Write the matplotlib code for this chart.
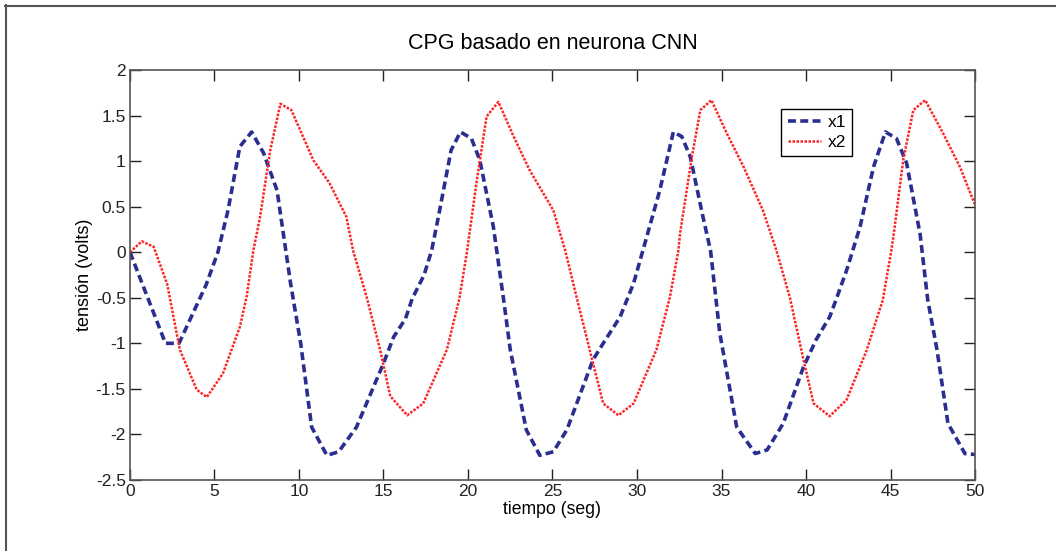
import numpy as np
import matplotlib
matplotlib.use('Agg')
import matplotlib.pyplot as plt
from matplotlib.lines import Line2D

plt.rcParams['font.family'] = ['Liberation Sans', 'DejaVu Sans']

# x1 (CNN neuron state 1)
t1 = [0, 2.1, 2.9, 4.5, 5.2, 5.8, 6.5, 7.2, 7.9, 8.7, 9.5, 10.1, 10.75, 11.65,
      12.35, 13.4, 15.0, 15.6, 16.3, 16.7, 17.4, 17.85, 18.25, 19.0, 19.55,
      20.2, 20.7, 21.5, 22.1, 22.5, 23.45, 24.25, 25.05, 25.85, 27.4, 28.0,
      29.0, 29.8, 30.35, 31.35, 32.15, 32.65, 33.15, 33.9, 34.35, 34.9, 35.9,
      37.0, 37.7, 38.65, 39.85, 40.6, 41.4, 41.8, 42.4, 43.2, 44.0, 44.7,
      45.35, 45.95, 46.75, 47.2, 47.75, 48.4, 49.4, 50]
x1 = [0, -1.0, -1.0, -0.36, 0.0, 0.46, 1.16, 1.32, 1.09, 0.68, -0.34, -1.0,
      -1.92, -2.23, -2.19, -1.92, -1.22, -0.93, -0.73, -0.51, -0.25, 0.02,
      0.39, 1.12, 1.32, 1.25, 1.01, 0.28, -0.51, -1.07, -1.95, -2.23, -2.19,
      -1.95, -1.18, -1.0, -0.71, -0.34, 0.02, 0.68, 1.32, 1.27, 1.05, 0.39,
      0.02, -0.89, -1.92, -2.21, -2.17, -1.88, -1.26, -0.96, -0.71, -0.51,
      -0.2, 0.28, 0.94, 1.32, 1.25, 0.98, 0.2, -0.52, -1.07, -1.88, -2.21,
      -2.22]

# x2 (CNN neuron state 2)
t2 = [0, 0.7, 1.4, 2.2, 2.95, 3.95, 4.55, 5.5, 6.5, 6.9, 7.3, 7.7, 8.3, 8.9,
      9.55, 10.85, 11.8, 12.8, 13.2, 14.0, 14.8, 15.4, 16.4, 17.35, 18.75,
      19.5, 19.95, 20.5, 21.1, 21.8, 22.7, 23.65, 25.05, 25.75, 26.5, 27.4,
      28.0, 28.9, 29.8, 31.15, 31.95, 32.45, 32.55, 33.25, 33.75, 34.4, 35.3,
      36.3, 37.45, 38.25, 39.05, 39.85, 40.45, 41.4, 42.4, 43.6, 44.55, 45.05,
      45.2, 45.75, 46.35, 47.05, 48.1, 49.1, 50]
x2 = [0, 0.12, 0.06, -0.35, -1.07, -1.51, -1.59, -1.33, -0.82, -0.49, 0.02,
      0.39, 1.12, 1.63, 1.56, 1.01, 0.76, 0.39, 0.02, -0.49, -1.07, -1.58,
      -1.79, -1.66, -1.07, -0.5, 0.02, 0.76, 1.49, 1.65, 1.27, 0.9, 0.46,
      0.02, -0.55, -1.22, -1.66, -1.79, -1.66, -1.07, -0.49, 0.02, 0.21,
      1.05, 1.56, 1.67, 1.31, 0.94, 0.46, 0.02, -0.5, -1.18, -1.66, -1.8,
      -1.62, -1.07, -0.52, 0.02, 0.21, 1.01, 1.56, 1.67, 1.31, 0.94, 0.52]

fig = plt.figure(figsize=(10.56, 5.51), dpi=100)
ax = fig.add_axes([0.1231, 0.1289, 0.8002, 0.744])

ax.plot(t1, x1, linestyle=(0, (2.2, 1.2)), color='#2a2e8f', lw=2.6, label='x1')
ax.plot(t2, x2, linestyle=(0, (1, 0.6)), color='#ff2424', lw=1.8, label='x2')

ax.set_xlim(0, 50)
ax.set_ylim(-2.5, 2)
ax.set_xticks(np.arange(0, 51, 5))
ax.set_yticks(np.arange(-2.5, 2.01, 0.5))
ax.set_yticklabels(['-2.5', '-2', '-1.5', '-1', '-0.5', '0', '0.5', '1', '1.5', '2'])
ax.tick_params(direction='in', length=8, width=1, top=True, right=True,
               labelsize=12.5, colors='#222222', pad=3)
for s in ax.spines.values():
    s.set_color('#555555')
    s.set_linewidth(1.2)

ax.set_title('CPG basado en neurona CNN', fontsize=15.5, pad=15)
ax.set_xlabel('tiempo (seg)', fontsize=12.7, labelpad=1)
ax.set_ylabel('tensión (volts)', fontsize=13, labelpad=2)

leg = ax.legend(loc='upper left', bbox_to_anchor=(0.771, 0.905), fontsize=12.5,
                fancybox=False, framealpha=1, edgecolor='black',
                handlelength=1.9, handletextpad=0.4, borderpad=0.35,
                labelspacing=0.25, borderaxespad=0)
leg.get_frame().set_linewidth(1.0)

# outer frame (top and left edges of the original figure border)
fig.add_artist(Line2D([5 / 1056, 1], [1 - 6 / 551, 1 - 6 / 551],
                      transform=fig.transFigure, color='#555555', lw=1.5))
fig.add_artist(Line2D([6 / 1056, 6 / 1056], [0, 1 - 5 / 551],
                      transform=fig.transFigure, color='#555555', lw=1.5))

fig.savefig('out.png', dpi=100)
